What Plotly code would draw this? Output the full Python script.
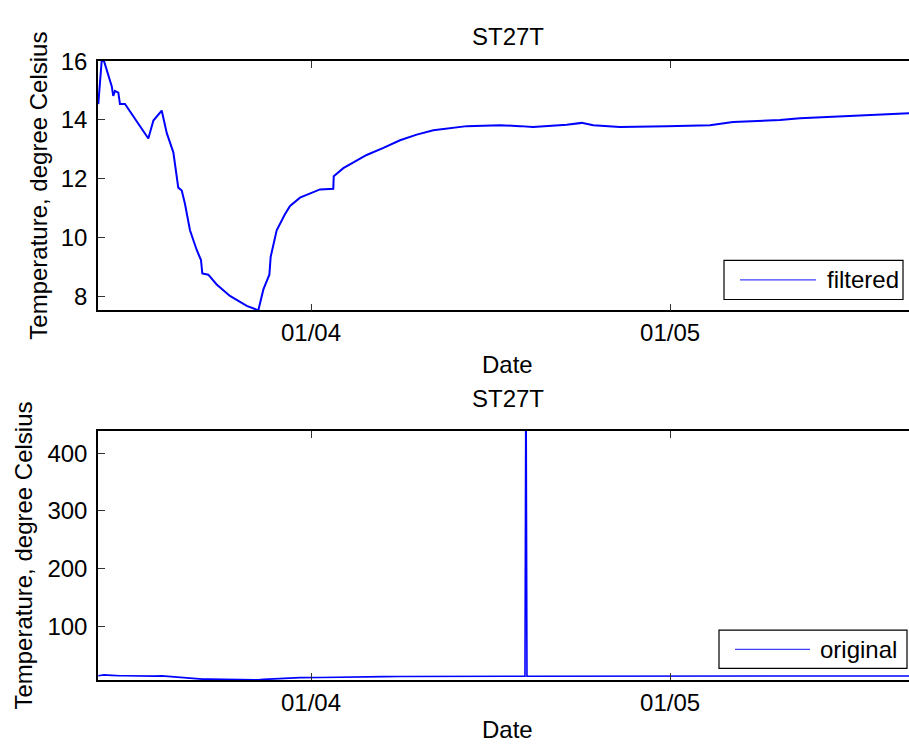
import plotly.graph_objects as go

W, H = 909, 744

# Station ST27T temperature record (degree Celsius)
times = [
    "2013-03-14 05:30", "2013-03-14 12:15", "2013-03-14 17:00", "2013-03-15 08:25",
    "2013-03-15 11:30", "2013-03-15 15:00", "2013-03-15 21:40", "2013-03-16 01:00",
    "2013-03-16 11:00", "2013-03-18 09:50", "2013-03-18 20:00", "2013-03-19 12:40",
    "2013-03-19 22:50", "2013-03-20 12:00", "2013-03-20 21:50", "2013-03-21 04:50",
    "2013-03-21 11:15", "2013-03-21 21:20", "2013-03-22 10:50", "2013-03-22 19:25",
    "2013-03-22 22:05", "2013-03-23 10:05", "2013-03-24 02:50", "2013-03-25 05:30",
    "2013-03-26 15:10", "2013-03-27 14:25", "2013-03-28 00:30", "2013-03-28 12:30",
    "2013-03-28 15:10", "2013-03-29 03:10", "2013-03-29 20:00", "2013-03-30 06:00",
    "2013-03-31 01:55", "2013-04-01 18:00", "2013-04-02 20:40", "2013-04-02 21:35",
    "2013-04-03 16:50", "2013-04-05 15:35", "2013-04-07 01:10", "2013-04-08 10:30",
    "2013-04-09 20:00", "2013-04-11 05:15", "2013-04-14 00:15", "2013-04-16 19:00",
    "2013-04-18 11:00", "2013-04-19 13:10", "2013-04-22 08:40", "2013-04-23 14:40",
    "2013-04-24 14:00", "2013-04-26 19:25", "2013-04-30 17:15", "2013-05-04 08:00",
    "2013-05-06 06:00", "2013-05-10 04:20", "2013-05-11 20:25", "2013-05-17 10:00",
    "2013-05-20 23:00", "2013-05-22 00:00",
]
filtered = [
    14.54, 16.00, 16.00, 15.15,
    14.82, 14.99, 14.93, 14.54,
    14.54, 13.37, 13.98, 14.32,
    13.55, 12.90, 11.70, 11.60,
    11.15, 10.25, 9.58, 9.24,
    8.78, 8.74, 8.41, 8.02,
    7.68, 7.53, 8.24, 8.74,
    9.35, 10.25, 10.80, 11.08,
    11.36, 11.64, 11.66, 12.09,
    12.36, 12.81, 13.05, 13.31,
    13.50, 13.65, 13.79, 13.82,
    13.79, 13.76, 13.84, 13.90,
    13.82, 13.76, 13.79, 13.82,
    13.93, 14.00, 14.06, 14.15,
    14.23, 14.25,
]

# Unfiltered record: same series plus the sensor spike
spike_times = ["2013-04-18 21:00", "2013-04-18 22:30", "2013-04-18 23:30", "2013-04-19 01:00"]
spike_temp = [13.79, 438.5, 438.5, 13.78]

orig_pairs = sorted(zip(times + spike_times, filtered + spike_temp))
orig_times = [p[0] for p in orig_pairs]
original = [p[1] for p in orig_pairs]

x_ticks = ["2013-04-01", "2013-05-01"]
x_tick_text = ["01/04", "01/05"]
top_y_ticks = [8, 10, 12, 14, 16]
bottom_y_ticks = [100, 200, 300, 400]
x_range = ["2013-03-14 04:55", "2013-05-20 23:00"]
top_y_range = [7.53, 16.0]
bottom_y_range = [6.8, 438.5]

BLUE = "#0000ff"
FONT = "Liberation Sans, Arial, sans-serif"
FS = 24


def px_x(x):
    return x / W


def px_y(y):
    return 1 - y / H


fig = go.Figure()
fig.add_trace(go.Scatter(x=times, y=filtered, mode="lines", name="filtered",
                         line=dict(color=BLUE, width=2), xaxis="x", yaxis="y",
                         showlegend=False))
fig.add_trace(go.Scatter(x=orig_times, y=original, mode="lines", name="original",
                         line=dict(color=BLUE, width=1.6), xaxis="x2", yaxis="y2",
                         showlegend=False))

axis_common = dict(showline=True, linecolor="black", linewidth=1.5,
                   ticks="inside", ticklen=7, tickwidth=1, tickcolor="#333",
                   showgrid=False, zeroline=False,
                   tickfont=dict(family=FONT, size=FS, color="black"))

top_dom = [px_y(302), px_y(48)]
bot_dom = [px_y(679), px_y(425)]
x_dom = [px_x(98), 1.0]

fig.update_layout(
    width=W, height=H, margin=dict(l=0, r=0, t=0, b=0),
    paper_bgcolor="white", plot_bgcolor="white",
    font=dict(family=FONT, size=FS, color="black"),
    xaxis=dict(domain=x_dom, anchor="y", range=x_range, type="date",
               tickvals=x_ticks, ticktext=x_tick_text, mirror="ticks",
               ticklabelstandoff=0, **axis_common),
    yaxis=dict(domain=top_dom, anchor="x", range=top_y_range,
               tickvals=top_y_ticks, ticklabelstandoff=4, **axis_common),
    xaxis2=dict(domain=x_dom, anchor="y2", range=x_range, type="date",
                tickvals=x_ticks, ticktext=x_tick_text, mirror="ticks",
                ticklabelstandoff=0, **axis_common),
    yaxis2=dict(domain=bot_dom, anchor="x2", range=bottom_y_range,
                tickvals=bottom_y_ticks, ticklabelstandoff=4, **axis_common),
)

# Titles and axis labels
texts = [
    ("ST27T", 508, 23, 0),
    ("Date", 508, 357, 0),
    ("Temperature, degree Celsius", 39, 175, -90),
    ("ST27T", 508, 392, 0),
    ("Date", 508, 729, 0),
    ("Temperature, degree Celsius", 24, 552, -90),
]
for txt, x, y, ang in texts:
    fig.add_annotation(text=txt, x=px_x(x), y=px_y(y), xref="paper", yref="paper",
                       xanchor="center", yanchor="middle", showarrow=False,
                       textangle=ang, font=dict(family=FONT, size=FS, color="black"))

# Legend boxes
legends = [
    ("filtered", 724, 903, 251, 291, 740, 816, 825),
    ("original", 719, 907, 628, 667, 735, 810, 818),
]
for name, x0, x1, y0, y1, lx0, lx1, tx in legends:
    fig.add_shape(type="rect", xref="paper", yref="paper",
                  x0=px_x(x0), x1=px_x(x1), y0=px_y(y1), y1=px_y(y0),
                  line=dict(color="black", width=1.2), fillcolor="white", layer="above")
    ym = (y0 + y1) / 2
    fig.add_shape(type="line", xref="paper", yref="paper",
                  x0=px_x(lx0), x1=px_x(lx1), y0=px_y(ym), y1=px_y(ym),
                  line=dict(color="#4040ff", width=1.2), layer="above")
    fig.add_annotation(text=name, x=px_x(tx), y=px_y(ym), xref="paper", yref="paper",
                       xanchor="left", yanchor="middle", showarrow=False,
                       font=dict(family=FONT, size=FS, color="black"))

fig.write_html("out.html")
